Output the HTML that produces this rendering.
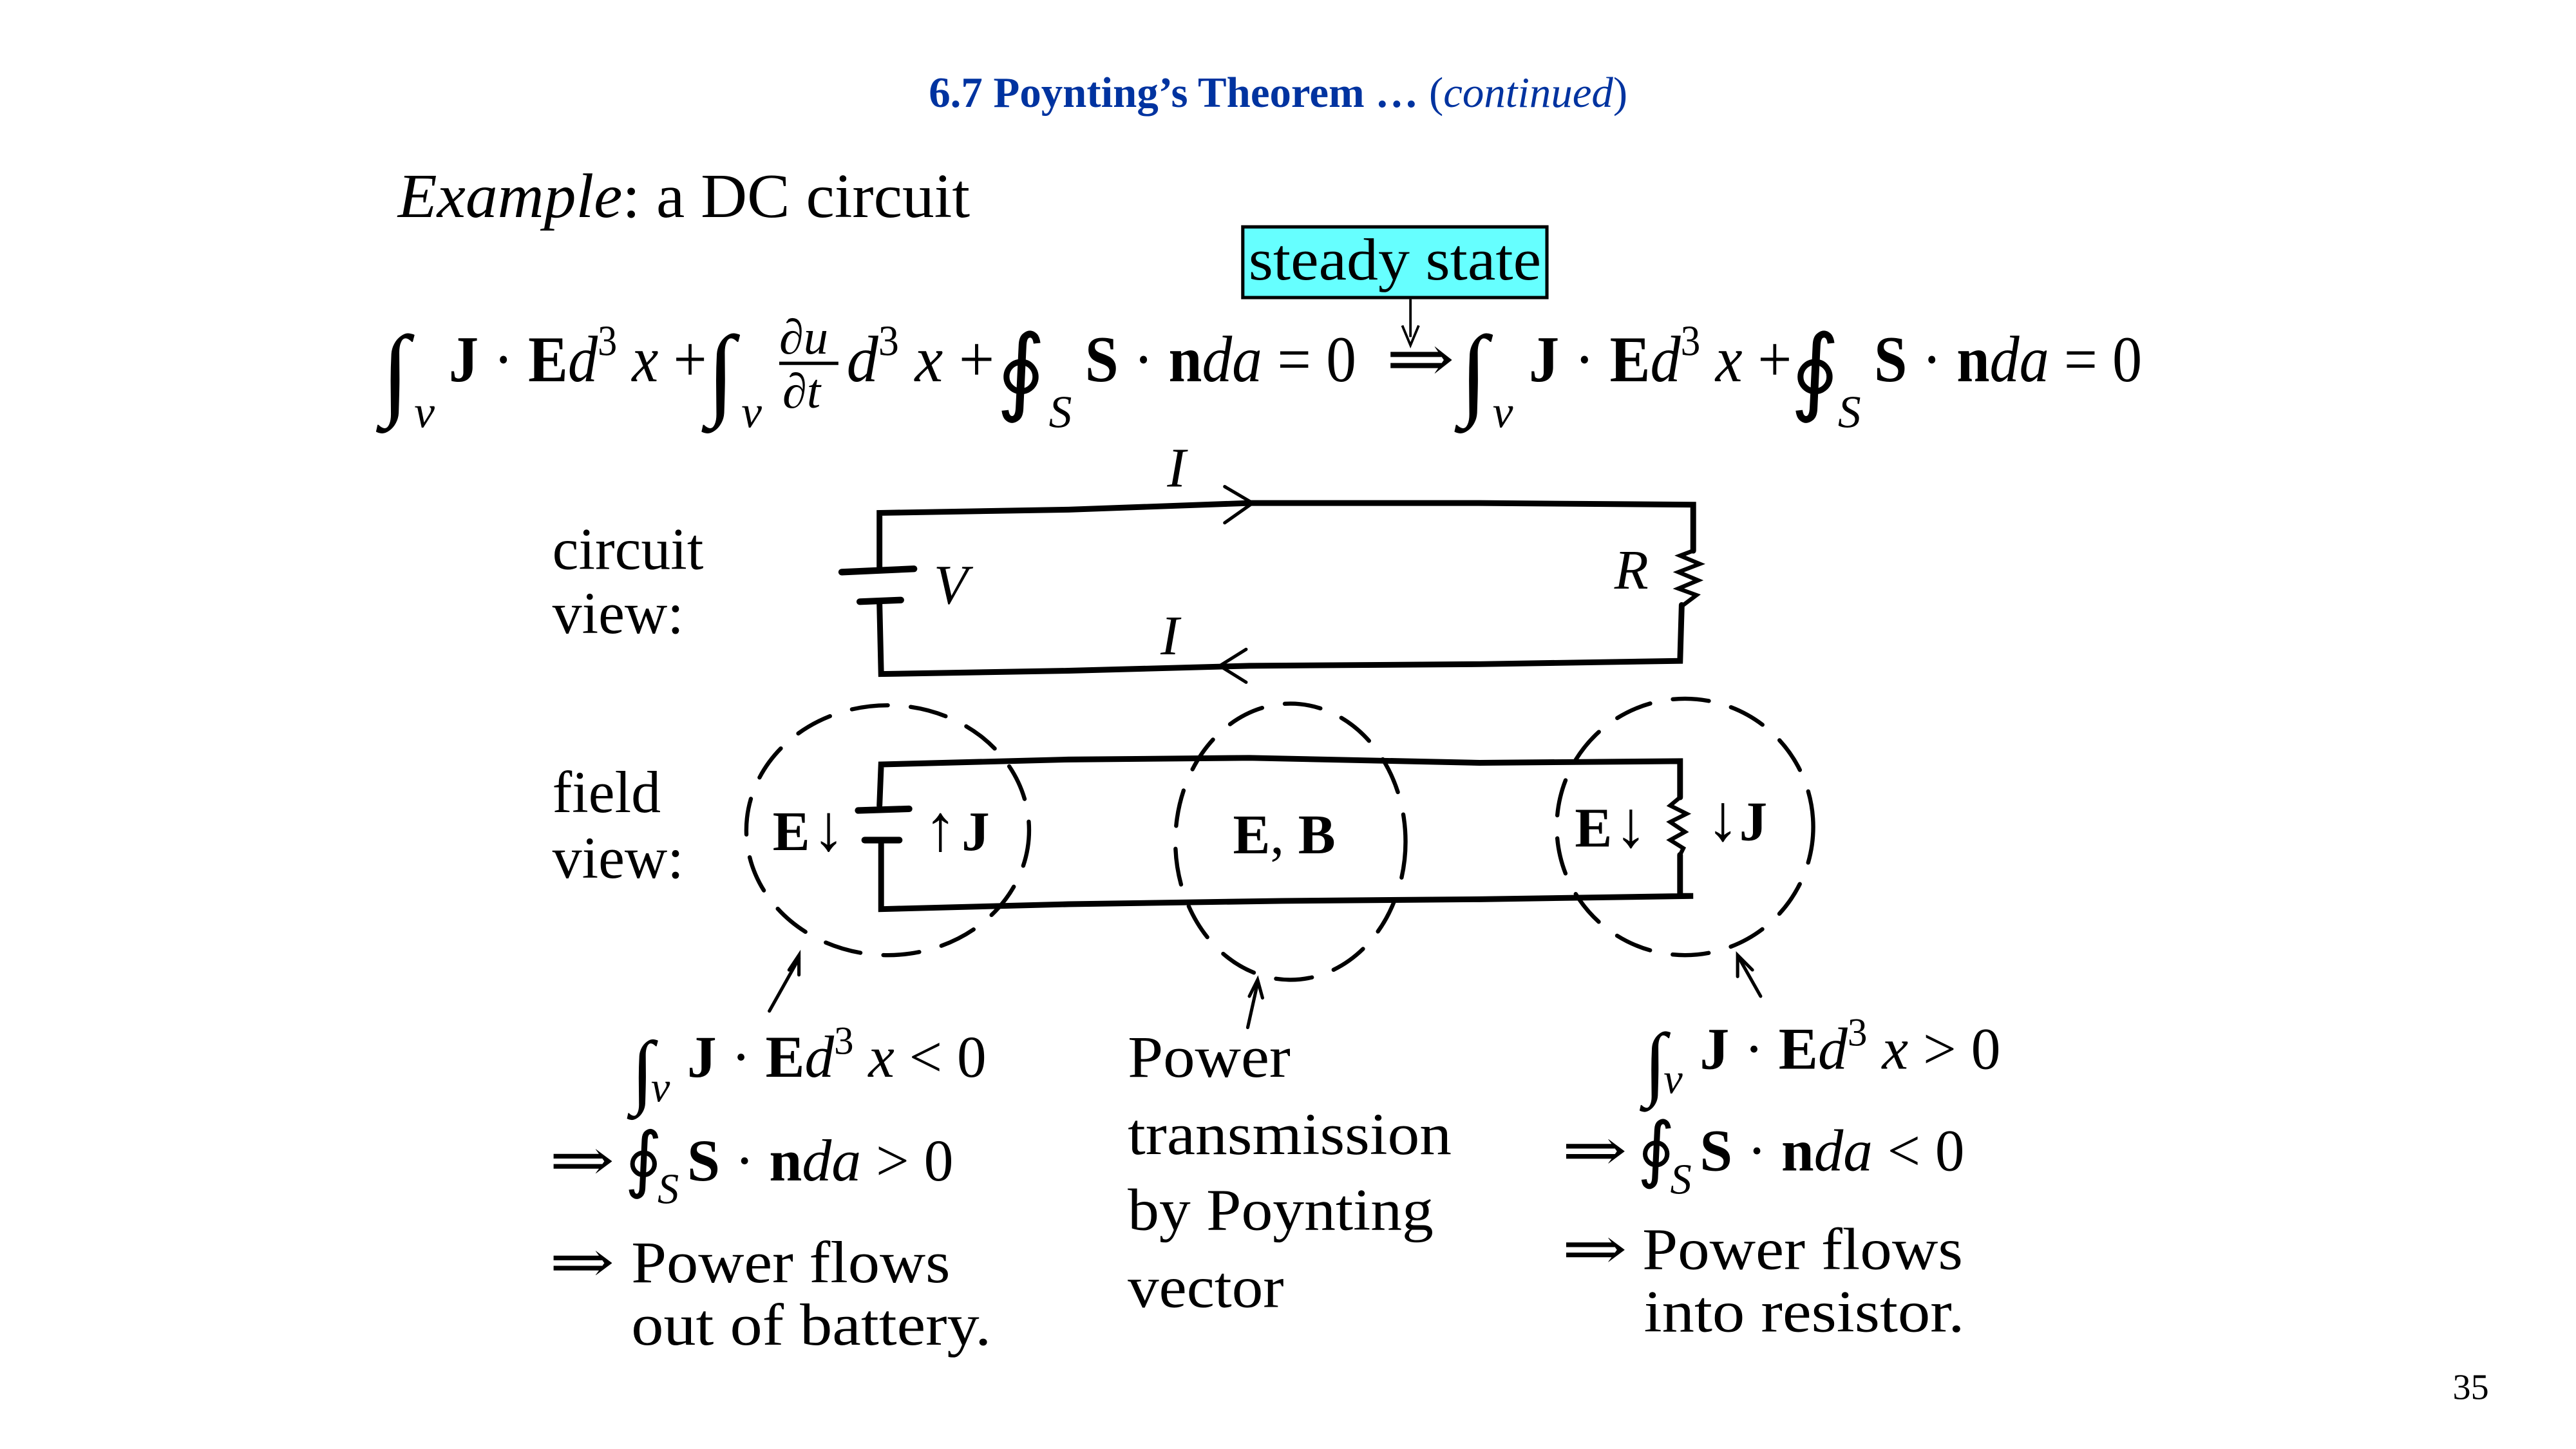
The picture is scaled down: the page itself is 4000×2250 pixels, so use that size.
<!DOCTYPE html>
<html><head><meta charset="utf-8">
<style>
html,body{margin:0;padding:0;background:#fff;}
svg{display:block;}
text{font-family:"Liberation Serif","DejaVu Serif",serif;fill:#000;}
.i{font-style:italic;}
.b{font-weight:bold;}
</style></head>
<body>
<svg width="4000" height="2250" viewBox="0 0 1567 881.4" preserveAspectRatio="none" xmlns="http://www.w3.org/2000/svg">
<rect width="1567" height="882" fill="#fff"/>
<!-- title -->
<text x="565" y="65" font-size="26" textLength="425" lengthAdjust="spacingAndGlyphs" style="fill:#0033a0"><tspan class="b" style="fill:#0033a0">6.7 Poynting’s Theorem …</tspan> <tspan style="fill:#0033a0">(</tspan><tspan class="i" style="fill:#0033a0">continued</tspan><tspan style="fill:#0033a0">)</tspan></text>

<text x="242" y="132" font-size="38" textLength="348" lengthAdjust="spacingAndGlyphs"><tspan class="i">Example</tspan>: a DC circuit</text>

<!-- steady state -->
<rect x="756" y="138" width="185" height="43" fill="#66ffff" stroke="#000" stroke-width="2"/>
<text x="848.5" y="170" text-anchor="middle" font-size="36" textLength="178" lengthAdjust="spacingAndGlyphs">steady state</text>
<line x1="858" y1="182" x2="858" y2="205" stroke="#000" stroke-width="1.5"/>
<path d="M853,198 L858,210 L863,198" fill="none" stroke="#000" stroke-width="1.5"/>

<!-- main equation -->
<g font-size="40">
<text x="232" y="247" font-size="62">∫</text>
<text x="252" y="260" class="i" font-size="28">v</text>
<text x="273" y="232" textLength="157" lengthAdjust="spacingAndGlyphs"><tspan class="b">J</tspan> · <tspan class="b">E</tspan><tspan class="i">d</tspan><tspan font-size="26" dy="-16">3</tspan><tspan class="i" dy="16"> x</tspan> +</text>
<text x="430" y="247" font-size="62">∫</text>
<text x="451" y="260" class="i" font-size="28">v</text>
<text x="474" y="215" font-size="30">∂<tspan class="i">u</tspan></text>
<line x1="474" y1="221" x2="510" y2="221" stroke="#000" stroke-width="2"/>
<text x="476" y="248" font-size="30">∂<tspan class="i">t</tspan></text>
<text x="515" y="232" textLength="90" lengthAdjust="spacingAndGlyphs"><tspan class="i">d</tspan><tspan font-size="26" dy="-16">3</tspan><tspan class="i" dy="16"> x</tspan> +</text>
<text x="606" y="245" font-size="58">∮</text>
<text x="638" y="260" class="i" font-size="28">S</text>
<text x="660" y="232" textLength="165" lengthAdjust="spacingAndGlyphs"><tspan class="b">S</tspan> · <tspan class="b">n</tspan><tspan class="i">da</tspan> = 0</text>
<text x="843" y="232" textLength="42" lengthAdjust="spacingAndGlyphs">⇒</text>
<text x="888" y="247" font-size="62">∫</text>
<text x="908" y="260" class="i" font-size="28">v</text>
<text x="930" y="232" textLength="160" lengthAdjust="spacingAndGlyphs"><tspan class="b">J</tspan> · <tspan class="b">E</tspan><tspan class="i">d</tspan><tspan font-size="26" dy="-16">3</tspan><tspan class="i" dy="16"> x</tspan> +</text>
<text x="1089" y="245" font-size="58">∮</text>
<text x="1118" y="260" class="i" font-size="28">S</text>
<text x="1140" y="232" textLength="163" lengthAdjust="spacingAndGlyphs"><tspan class="b">S</tspan> · <tspan class="b">n</tspan><tspan class="i">da</tspan> = 0</text>
</g>

<!-- circuit view -->
<text x="336" y="346" font-size="36">circuit</text>
<text x="336" y="385" font-size="36">view:</text>
<g fill="none" stroke="#000" stroke-linecap="round">
<path d="M535,345 L535,312 L650,310 L760,306 L900,306 L1030,307 L1030,335" stroke-width="3.5"/>
<path d="M512,348 L556,346" stroke-width="4"/>
<path d="M523,366 L548,365" stroke-width="4"/>
<path d="M535,367 L536,410 L650,408 L760,405 L900,404 L1022,402 L1023,368" stroke-width="3.5"/>
<path d="M1030,335 L1022,338 L1034,343 L1021,348 L1033,353 L1021,358 L1032,362 L1024,368" stroke-width="2.5"/>
<path d="M745,296 L762,306 L745,318" stroke-width="2"/>
<path d="M758,395 L742,405 L758,415" stroke-width="2"/>
</g>
<text x="710" y="296" class="i" font-size="34">I</text>
<text x="706" y="398" class="i" font-size="34">I</text>
<text x="568" y="367" class="i" font-size="34">V</text>
<text x="982" y="358" class="i" font-size="34">R</text>

<!-- field view -->
<text x="336" y="494" font-size="36">field</text>
<text x="336" y="534" font-size="36">view:</text>
<g fill="none" stroke="#000" stroke-linecap="round">
<path d="M535,490 L536,465 L650,462 L760,461 L900,464 L1022,463 L1022,485" stroke-width="3.5"/>
<path d="M522,493 L553,492" stroke-width="4"/>
<path d="M526,511 L547,511" stroke-width="4"/>
<path d="M536,512 L536,553 L650,550 L780,548 L900,547 L1030,545 L1022,545 L1022,520" stroke-width="3.5"/>
<path d="M1022,485 L1016,490 L1026,495 L1016,500 L1025,506 L1016,511 L1024,516 L1022,520" stroke-width="2.5"/>
<g stroke-width="2.5" stroke-dasharray="22 14">
<ellipse cx="540" cy="505" rx="86" ry="76"/>
<ellipse cx="785" cy="512" rx="70" ry="84"/>
<ellipse cx="1025" cy="503" rx="78" ry="78"/>
</g>
<path d="M468,615 L486,583" stroke-width="2"/>
<path d="M480,590 L486,581 L486,593" stroke-width="2"/>
<path d="M759,625 L765,598" stroke-width="2"/>
<path d="M760,606 L765,596 L768,607" stroke-width="2"/>
<path d="M1071,606 L1058,583" stroke-width="2"/>
<path d="M1057,594 L1057,581 L1066,590" stroke-width="2"/>
</g>
<text x="470" y="517" class="b" font-size="34">E</text>
<text x="494" y="517" font-size="40">↓</text>
<text x="562" y="517" font-size="40">↑</text>
<text x="585" y="517" class="b" font-size="34">J</text>
<text x="750" y="519" class="b" font-size="34">E<tspan font-weight="normal">,</tspan> B</text>
<text x="958" y="515" class="b" font-size="34">E</text>
<text x="982" y="515" font-size="40">↓</text>
<text x="1038" y="511" font-size="40">↓</text>
<text x="1058" y="511" class="b" font-size="34">J</text>

<!-- bottom -->
<g font-size="36">
<text x="384" y="668" font-size="50">∫</text>
<text x="396" y="670" class="i" font-size="26">v</text>
<text x="418" y="655" textLength="182" lengthAdjust="spacingAndGlyphs"><tspan class="b">J</tspan> · <tspan class="b">E</tspan><tspan class="i">d</tspan><tspan font-size="24" dy="-14">3</tspan><tspan class="i" dy="14"> x</tspan> &lt; 0</text>
<text x="334" y="718" textLength="40" lengthAdjust="spacingAndGlyphs">⇒</text>
<text x="380" y="720" font-size="44">∮</text>
<text x="400" y="732" class="i" font-size="26">S</text>
<text x="418" y="718" textLength="162" lengthAdjust="spacingAndGlyphs"><tspan class="b">S</tspan> · <tspan class="b">n</tspan><tspan class="i">da</tspan> &gt; 0</text>
<text x="334" y="780" textLength="40" lengthAdjust="spacingAndGlyphs">⇒</text>
<text x="384" y="780" textLength="194" lengthAdjust="spacingAndGlyphs">Power flows</text>
<text x="384" y="818" textLength="219" lengthAdjust="spacingAndGlyphs">out of battery.</text>

<text x="686" y="655" textLength="99" lengthAdjust="spacingAndGlyphs">Power</text>
<text x="686" y="702" textLength="197" lengthAdjust="spacingAndGlyphs">transmission</text>
<text x="686" y="748" textLength="186" lengthAdjust="spacingAndGlyphs">by Poynting</text>
<text x="686" y="795" textLength="95" lengthAdjust="spacingAndGlyphs">vector</text>

<text x="1000" y="663" font-size="50">∫</text>
<text x="1012" y="665" class="i" font-size="26">v</text>
<text x="1034" y="650" textLength="183" lengthAdjust="spacingAndGlyphs"><tspan class="b">J</tspan> · <tspan class="b">E</tspan><tspan class="i">d</tspan><tspan font-size="24" dy="-14">3</tspan><tspan class="i" dy="14"> x</tspan> &gt; 0</text>
<text x="950" y="712" textLength="40" lengthAdjust="spacingAndGlyphs">⇒</text>
<text x="996" y="714" font-size="44">∮</text>
<text x="1016" y="726" class="i" font-size="26">S</text>
<text x="1034" y="712" textLength="161" lengthAdjust="spacingAndGlyphs"><tspan class="b">S</tspan> · <tspan class="b">n</tspan><tspan class="i">da</tspan> &lt; 0</text>
<text x="950" y="772" textLength="40" lengthAdjust="spacingAndGlyphs">⇒</text>
<text x="999" y="772" textLength="195" lengthAdjust="spacingAndGlyphs">Power flows</text>
<text x="1000" y="810" textLength="195" lengthAdjust="spacingAndGlyphs">into resistor.</text>
</g>

<text x="1492" y="851" font-size="22">35</text>
</svg>
</body></html>
